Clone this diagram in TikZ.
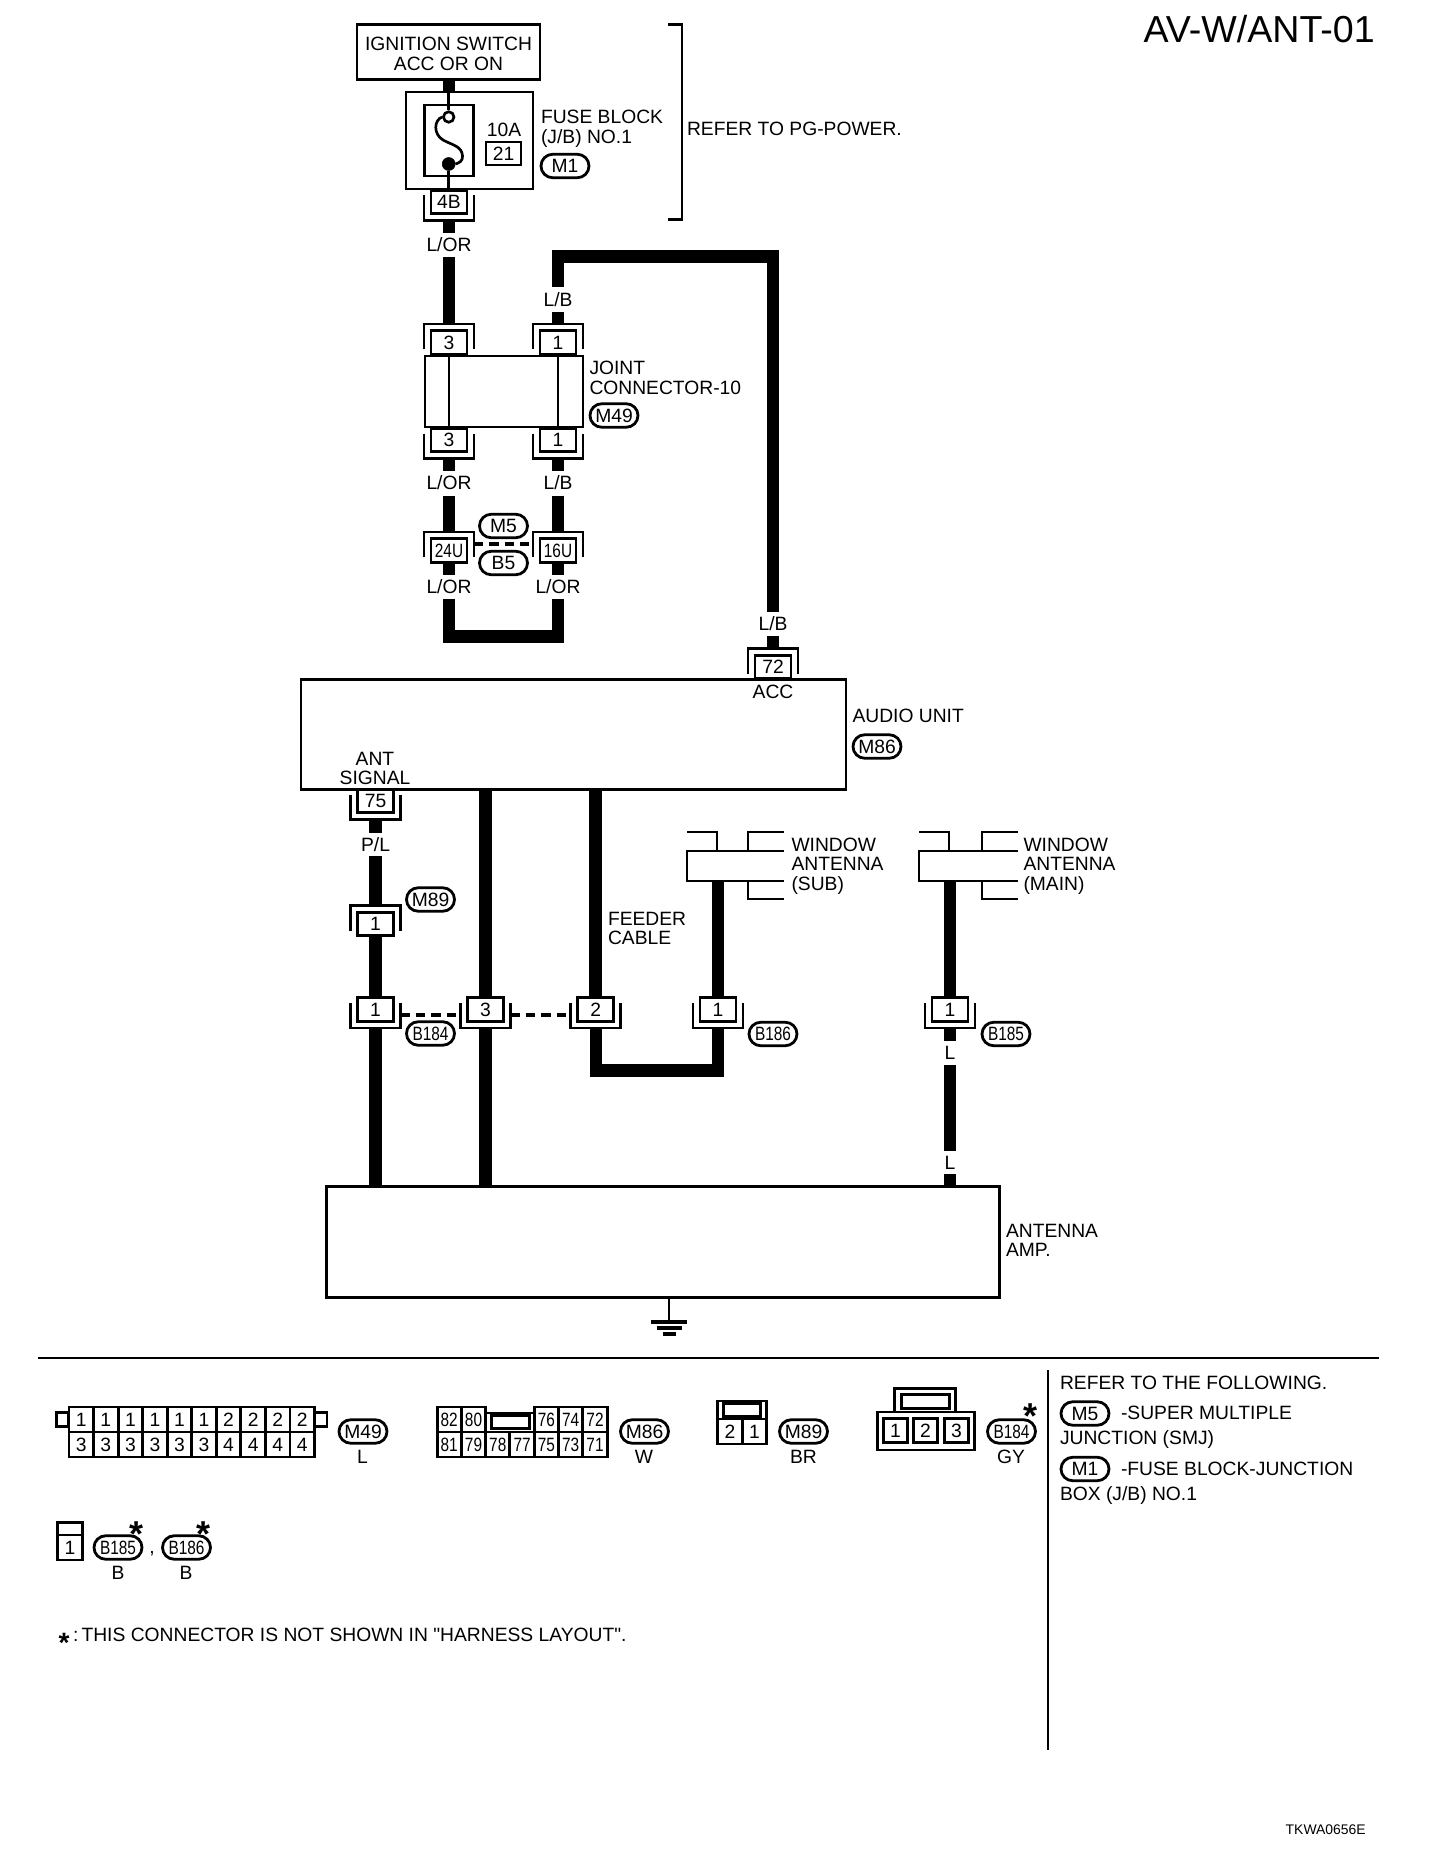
\documentclass[tikz,border=0pt]{standalone}
\usepackage{fontspec}
\setmainfont{Liberation Sans}
\newfontfamily\plainf{Liberation Sans}
\usetikzlibrary{calc,shapes.misc}
\newcommand\nrw[1]{\scalebox{.8}[1]{#1}}
\newcommand\pinU[4]{%
  \node[pinbox] (#1) at (#2,#3) {#4};
  \draw[shell] (#2-25,#3-6.5) -- (#2-25,#3+18.5) -- (#2+25,#3+18.5) -- (#2+25,#3-6.5);
  \coordinate (#1w) at (#2,#3+18.5);
  \coordinate (#1e) at (#2+25,#3+5.5);
  \coordinate (#1l) at (#2-25,#3+5.5);
}
\newcommand\pinN[4]{%
  \node[pinbox] (#1) at (#2,#3) {#4};
  \draw[shell] (#2-25,#3+6.5) -- (#2-25,#3-18.5) -- (#2+25,#3-18.5) -- (#2+25,#3+6.5);
  \coordinate (#1w) at (#2,#3-18.5);
  \coordinate (#1e) at (#2+25,#3-6.5);
  \coordinate (#1l) at (#2-25,#3-6.5);
}
\newcommand\winant[5]{% name, x left, x stub1, x stub2, x right
  \draw[line width=2pt,line join=miter] (#5,851) -- (#2,851) -- (#2,881) -- (#5,881);
  \draw[shell] (#2,832) -- (#3,832) -- (#3,851);
  \draw[shell] (#4,851) -- (#4,832) -- (#5,832);
  \draw[shell] (#4,881) -- (#4,899) -- (#5,899);
}
\tikzset{
  sz/.style 2 args={minimum width=#1*0.75pt,minimum height=#2*0.75pt},
  txtf/.style={font=\fontsize{14.45}{14.6}\selectfont},
  lab/.style={txtf,inner sep=0pt,outer sep=0pt,text height=10.3pt,text depth=0pt},
  mline/.style={txtf,inner sep=0pt,outer sep=0pt,align=left},
  wlab/.style={lab,minimum height=#1*0.75pt},
  boxln/.style={line width=2.2pt,line join=miter},
  shell/.style={line width=2pt,line join=miter},
  thinw/.style={line width=2pt},
  wire/.style={line width=9.2pt,line cap=butt,line join=miter},
  comp/.style={draw,boxln,inner sep=0pt,outer sep=0pt,fill=white},
  pinbox/.style={comp,lab,line width=2.1pt,sz={36}{23.5}},
  oval/.style={rounded rectangle,draw,line width=2.1pt,inner sep=0pt,outer sep=0pt,txtf,sz={48}{23.5},fill=white},
  cell/.style={comp,lab,line width=2.2pt},
  dashln/.style={line width=2.4pt,dash pattern=on 7pt off 4.5pt},
  starm/.style={font=\fontsize{27}{27}\selectfont\bfseries,inner sep=0pt,anchor=base},
}
\begin{document}
\begin{tikzpicture}[x=0.75pt,y=-0.75pt]
\useasboundingbox (0,0) rectangle (1440,1858);
\fill[white] (0,0) rectangle (1440,1858);

% title and footer
\node[inner sep=0pt,font=\fontsize{28.2}{29}\selectfont,anchor=east,text height=20.4pt,text depth=0pt] (title) at (1375,29) {AV-W/ANT-01};
\node[inner sep=0pt,font=\fontsize{10.45}{11}\selectfont,anchor=east,text height=7.4pt,text depth=0pt] (foot) at (1366,1830) {TKWA0656E};

% ignition + fuse
\node[comp,mline,align=center,sz={183}{55}] (ign) at (448.5,52) {\rule{0pt}{13pt}IGNITION SWITCH\\ACC OR ON};
\node[comp,sz={127}{97}] (fuse) at (469.5,140.5) {};
\node[comp,sz={49}{71}] (finner) at (448.7,140.5) {};
\node[circle,draw,thinw,fill=white,inner sep=0pt,minimum size=10.5*0.75pt] (fopen) at (448.7,117) {};
\node[circle,draw,fill=black,inner sep=0pt,minimum size=13*0.75pt] (fshut) at (448.7,164) {};
\draw[wire] (ign.south -| finner) -- (finner |- fuse.north);
\draw[thinw] (finner |- fuse.north) -- (fopen.north);
\draw[thinw] (fshut.south) -- (finner |- fuse.south);
\draw[thinw] (fopen.west) .. controls (434,120) and (433,134) .. (443,140) .. controls (452,145) and (462,146) .. (462.5,156) .. controls (463,161) and (459,163) .. (fshut.east);
\node[lab] (a10) at (504,130) {10A};
\node[cell,sz={35}{23}] (a21) at (503.5,153.5) {21};
\node[mline,anchor=west] (fusetxt) at (541,129) {FUSE BLOCK\\(J/B) NO.1};
\node[oval] (m1) at (565,166) {M1};
\draw[shell] (668,24.5) -- (682,24.5) -- (682,219.5) -- (668,219.5);
\node[lab,anchor=west] (refer) at (687,129) {REFER TO PG-POWER.};

\pinU{p4b}{449}{202}{4B}
\node[wlab=24] (lo1) at (449,245) {L/OR};
\draw[wire] (p4bw) -- (lo1.north);

% joint connector
\pinN{p3t}{449}{342.5}{3}
\pinN{p1t}{558}{342.5}{1}
\node[comp,line width=1.8pt,sz={158}{71},fill=white] (joint) at (504,391.5) {};
\pinU{p3b}{449}{440}{3}
\pinU{p1b}{558}{440}{1}
\draw[line width=2pt] (p3t.south) -- (p3b.north);
\draw[line width=2pt] (p1t.south) -- (p1b.north);
\draw[wire] (lo1.south) -- (p3tw);
\node[lab,anchor=west] (jt1) at (589.5,368) {JOINT};
\node[lab,anchor=west] (jt2) at (589.5,388) {CONNECTOR-10};
\node[oval] (m49) at (614,415.5) {M49};

% L/B long run
\node[wlab=25] (lb1) at (558,300) {L/B};
\node[wlab=24] (lb3) at (773,624) {L/B};
\coordinate (lbc1) at (558,256.5);
\coordinate (lbc2) at (773,256.5);
\draw[wire] (lb1.south) -- (p1tw);
\draw[wire] (lb1.north) -- (lbc1) -- (lbc2) -- (lb3.north);

% SMJ
\node[wlab=25] (lo2) at (449,483) {L/OR};
\node[wlab=25] (lb2) at (558,483) {L/B};
\draw[wire] (p3bw) -- (lo2.north);
\draw[wire] (p1bw) -- (lb2.north);
\pinN{p24}{449}{550.5}{\nrw{24U}}
\pinN{p16}{558}{550.5}{\nrw{16U}}
\draw[wire] (lo2.south) -- (p24w);
\draw[wire] (lb2.south) -- (p16w);
\draw[dashln] (p24e) -- (p16l);
\node[oval] (m5) at (503.5,526) {M5};
\node[oval] (b5) at (503.5,563) {B5};
\node[wlab=24] (lo3) at (449,587) {L/OR};
\node[wlab=24] (lo4) at (558,587) {L/OR};
\draw[wire] (p24.south) -- (lo3.north);
\draw[wire] (p16.south) -- (lo4.north);
\coordinate (lp1) at (449,636.5);
\coordinate (lp2) at (558,636.5);
\draw[wire] (lo3.south) -- (lp1) -- (lp2) -- (lo4.south);

% audio unit
\pinN{p72}{773}{667}{72}
\draw[wire] (lb3.south) -- (p72w);
\node[comp,sz={545}{109.5}] (audio) at (573.5,734.5) {};
\node[lab] (acc) at (773,692) {ACC};
\node[mline,align=center] (ant) at (375,768.5) {ANT\\SIGNAL};
\node[lab,anchor=west] (autxt) at (852.5,716) {AUDIO UNIT};
\node[oval] (m86) at (877,746.5) {M86};
\pinU{p75}{375.5}{801}{75}
\node[wlab=23] (pl) at (375.5,844.5) {P/L};
\draw[wire] (p75w) -- (pl.north);
\pinN{p89}{375.5}{924}{1}
\draw[wire] (pl.south) -- (p89w);
\node[oval] (m89) at (430.5,899.5) {M89};

% B184 row
\pinU{pa1}{375.5}{1009.5}{1}
\pinU{pa3}{485.5}{1009.5}{3}
\pinU{pa2}{595.7}{1009.5}{2}
\pinU{pa6}{718}{1009.5}{1}
\pinU{pa5}{950}{1009.5}{1}
\draw[dashln] (pa1e) -- (pa3l);
\draw[dashln] (pa3e) -- (pa2l);
\draw[wire] (p89.south) -- (pa1.north);
\draw[wire] (pa3 |- audio.south) -- (pa3.north);
\draw[wire,line width=9.6pt] (pa2 |- audio.south) -- (pa2.north);
\node[oval] (b184) at (430.5,1033.5) {\nrw{B184}};
\node[oval] (b186) at (773,1034) {\nrw{B186}};
\node[oval] (b185) at (1006,1034) {\nrw{B185}};
\node[mline,anchor=west] (feeder) at (608,928.5) {FEEDER\\CABLE};

% window antennas
\winant{wsub}{687}{717}{748}{784}
\winant{wmain}{919}{949}{982}{1018}
\coordinate (wsubo) at (718,881);
\coordinate (wmaino) at (950,881);
\draw[wire] (wsubo) -- (pa6.north);
\draw[wire] (wmaino) -- (pa5.north);
\node[mline,anchor=west] (t1) at (791.5,866) {WINDOW\\ANTENNA\\(SUB)};
\node[mline,anchor=west] (t2) at (1023.5,866) {WINDOW\\ANTENNA\\(MAIN)};
\coordinate (fl1) at (595.7,1070.5);
\coordinate (fl2) at (718,1070.5);
\draw[wire] (pa2w) -- (fl1) -- (fl2) -- (pa6w);

% antenna amp
\node[comp,sz={673}{111}] (amp) at (663,1242) {};
\draw[wire] (pa1w) -- (pa1 |- amp.north);
\draw[wire] (pa3w) -- (pa3 |- amp.north);
\node[wlab=24] (l1) at (950,1052.5) {L};
\node[wlab=23] (l2) at (950,1162.5) {L};
\draw[wire] (pa5w) -- (l1.north);
\draw[wire] (l1.south) -- (l2.north);
\draw[wire] (l2.south) -- (l2 |- amp.north);
\node[mline,anchor=west] (amptxt) at (1006,1240.5) {ANTENNA\\AMP.};
\coordinate (gnd1) at (669,1322);
\draw[thinw] (gnd1 |- amp.south) -- (gnd1);
\coordinate (gnd2) at (669,1328);
\coordinate (gnd3) at (669,1334);
\draw[line width=2.4pt] ($(gnd1)+(-18,0)$) -- ($(gnd1)+(18,0)$);
\draw[line width=2.4pt] ($(gnd2)+(-12.5,0)$) -- ($(gnd2)+(12.5,0)$);
\draw[line width=2.4pt] ($(gnd3)+(-6.5,0)$) -- ($(gnd3)+(6.5,0)$);

% separators
\coordinate (s1) at (38,1358);
\coordinate (s2) at (1379,1358);
\draw[line width=1.9pt] (s1) -- (s2);
\coordinate (s3) at (1048,1370);
\coordinate (s4) at (1048,1750);
\draw[line width=1.9pt] (s3) -- (s4);

% M49 connector face
\node[cell,sz={245.5}{49.5}] (f49) at (192,1432) {};
\foreach \v [count=\i from 0] in {1,1,1,1,1,1,2,2,2,2}
  \node[cell,sz={24.55}{25}] (fa\i) at ({81.3+24.55*\i},1419.5) {\v};
\foreach \v [count=\i from 0] in {3,3,3,3,3,3,4,4,4,4}
  \node[cell,sz={24.55}{25}] (fb\i) at ({81.3+24.55*\i},1444.5) {\v};
\node[cell,sz={12}{12}] (ear1) at (62.5,1419.5) {};
\node[cell,sz={12}{12}] (ear2) at (321,1419.5) {};
\node[oval] (k49) at (363,1431.5) {M49};
\node[lab] (k49c) at (362.5,1457) {L};

% M86 connector face
\foreach \v/\i in {82/0,80/1,76/4,74/5,72/6}
  \node[cell,sz={24.3}{25}] (ga\i) at ({449.2+24.3*\i},1419.5) {\nrw{\v}};
\foreach \v [count=\i from 0] in {81,79,78,77,75,73,71}
  \node[cell,sz={24.3}{25}] (gb\i) at ({449.2+24.3*\i},1444.5) {\nrw{\v}};
\node[cell,sz={48.6}{19}] (gtop) at (510.2,1422.5) {};
\node[cell,sz={38}{9}] (gslot) at (510.5,1422) {};
\node[oval] (k86) at (644.5,1431.5) {M86};
\node[lab] (k86c) at (644,1457) {W};

% M89 connector face
\node[cell,sz={49}{18}] (h89) at (742.2,1410) {};
\node[cell,sz={37}{6}] (h89s) at (742.2,1410) {};
\node[cell,sz={24.5}{25}] (h2) at (729.9,1431.5) {2};
\node[cell,sz={24.5}{25}] (h1) at (754.5,1431.5) {1};
\node[oval] (k89) at (803.5,1431.5) {M89};
\node[lab] (k89c) at (803.5,1457) {BR};

% B184 connector face
\node[cell,sz={61}{24}] (i1) at (925,1400.5) {};
\node[cell,sz={48}{13}] (i2) at (925.5,1401.5) {};
\node[cell,sz={97}{38}] (i3) at (926,1431) {};
\node[cell,sz={24}{24}] (j1) at (895.5,1430.5) {1};
\node[cell,sz={24}{24}] (j2) at (925.5,1430.5) {2};
\node[cell,sz={24}{24}] (j3) at (956.5,1430.5) {3};
\node[oval] (k184) at (1011.5,1431.5) {\nrw{B184}};
\node[lab] (k184c) at (1011,1457) {GY};
\node[starm] (st1) at (1030.5,1428) {*};

% B185 / B186 connector face
\node[cell,sz={25}{12}] (n1) at (70,1529) {};
\node[cell,sz={25}{25}] (n2) at (70,1547.5) {1};
\node[oval] (k185) at (118,1547.5) {\nrw{B185}};
\node[lab] (k185c) at (118,1573) {B};
\node[starm] (st2) at (137,1546) {*};
\node[lab,anchor=base] (comma) at (152,1553) {,};
\node[oval] (k186) at (186.5,1547.5) {\nrw{B186}};
\node[lab] (k186c) at (186,1573) {B};
\node[starm] (st3) at (204,1546) {*};

% note
\node[starm,font=\fontsize{21}{21}\selectfont\bfseries] (st4) at (64,1652) {*};
\node[lab,anchor=west] (note) at (73,1635) {:\,THIS CONNECTOR IS NOT SHOWN IN {\plainf"}HARNESS LAYOUT{\plainf"}.};

% right-hand legend
\node[lab,anchor=west] (rf) at (1060,1383) {REFER TO THE FOLLOWING.};
\node[oval] (r5) at (1085,1413.5) {M5};
\node[lab,anchor=west] (r5t) at (1121,1413) {-SUPER MULTIPLE};
\node[lab,anchor=west] (r5u) at (1060,1438) {JUNCTION (SMJ)};
\node[oval] (r1) at (1085,1469) {M1};
\node[lab,anchor=west] (r1t) at (1121,1469) {-FUSE BLOCK-JUNCTION};
\node[lab,anchor=west] (r1u) at (1060,1494) {BOX (J/B) NO.1};
\end{tikzpicture}
\end{document}
